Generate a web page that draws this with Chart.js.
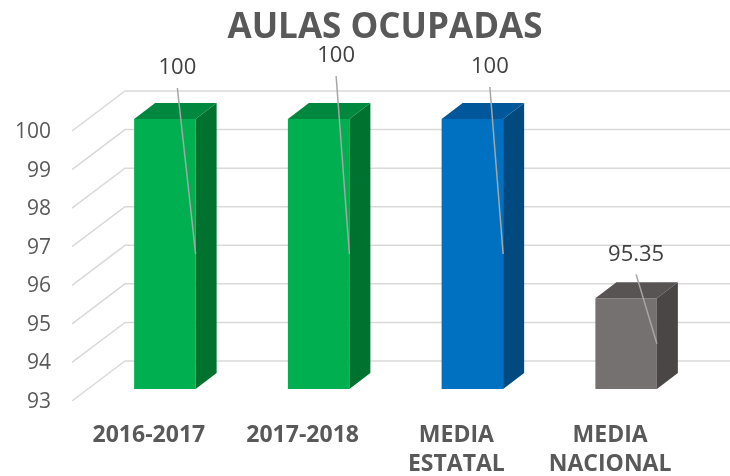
<!DOCTYPE html>
<html>
<head>
<meta charset="utf-8">
<script src="https://cdn.jsdelivr.net/npm/chart.js@4/dist/chart.umd.min.js"></script>
<style>
  html,body{margin:0;padding:0;background:#fff;}
  #wrap{width:730px;height:476px;position:relative;}
</style>
</head>
<body>
<div id="wrap"><canvas id="c"></canvas></div>
<script>
// ── data ──
const TITLE = 'AULAS OCUPADAS';
const CATS = [['2016-2017'], ['2017-2018'], ['MEDIA','ESTATAL'], ['MEDIA','NACIONAL']];
const VALS = [100, 100, 100, 95.35];
const Y_MIN = 93, Y_MAX = 100, Y_STEP = 1;

// ── styles ──
const FRONT = ['#00b050', '#00b050', '#0070c0', '#767171'];
const TOP   = ['#00893e', '#00893e', '#005799', '#595454'];
const SIDE  = ['#00722f', '#00722f', '#004a80', '#4b4646'];
const FONT = '"Open Sans", "DejaVu Sans", sans-serif';

// 3D box + back wall, drawn around the bars Chart.js places
const box3d = {
  id: 'box3d',
  beforeDatasetsDraw(chart, args, o){
    const {ctx, chartArea:a, scales:{y}} = chart;
    ctx.save();
    ctx.strokeStyle = '#d9d9d9';
    ctx.lineWidth = 1.5;
    y.ticks.forEach(t => {
      const py = y.getPixelForValue(t.value);
      ctx.beginPath();
      ctx.moveTo(a.left + o.floorDx, py + o.floorDy);
      ctx.lineTo(a.left + o.wallDx, py + o.wallDy);
      ctx.lineTo(chart.width, py + o.wallDy);
      ctx.stroke();
    });
    ctx.restore();
  },
  afterDatasetsDraw(chart, args, o){
    const {ctx, chartArea:a} = chart;
    const meta = chart.getDatasetMeta(0);
    ctx.save();
    meta.data.forEach((b, i) => {
      const l = b.x - b.width/2, r = b.x + b.width/2, t = b.y;
      const bt = Math.min(b.base, a.bottom); // axis starts at 93, not 0
      // top face
      ctx.fillStyle = TOP[i];
      ctx.beginPath();
      ctx.moveTo(l, t); ctx.lineTo(r, t);
      ctx.lineTo(r + o.dx, t + o.dy); ctx.lineTo(l + o.dx, t + o.dy);
      ctx.closePath(); ctx.fill();
      // side face
      ctx.fillStyle = SIDE[i];
      ctx.beginPath();
      ctx.moveTo(r, t); ctx.lineTo(r + o.dx, t + o.dy);
      ctx.lineTo(r + o.dx, bt + o.dy); ctx.lineTo(r, bt);
      ctx.closePath(); ctx.fill();
    });
    // data labels with leader lines
    ctx.font = '22px ' + FONT;
    ctx.textAlign = 'center';
    ctx.textBaseline = 'middle';
    meta.data.forEach((b, i) => {
      const [ox, oy] = o.labelShift[i];
      const lx = b.x + ox, ly = b.y + oy;
      const bt = Math.min(b.base, a.bottom);
      ctx.strokeStyle = '#a6a6a6';
      ctx.lineWidth = 1.5;
      ctx.beginPath();
      ctx.moveTo(lx, ly + 20);
      ctx.lineTo(b.x + b.width/2, (b.y + bt)/2);
      ctx.stroke();
      ctx.fillStyle = '#404040';
      ctx.fillText(String(VALS[i]), lx, ly);
    });
    // title, centred where the original sits (not on the canvas middle)
    ctx.font = 'bold 35px ' + FONT;
    ctx.fillStyle = '#595959';
    ctx.textBaseline = 'alphabetic';
    ctx.fillText(TITLE, o.titleX, o.titleY);
    ctx.restore();
  }
};

new Chart(document.getElementById('c'), {
  type: 'bar',
  data: {
    labels: CATS,
    datasets: [{ data: VALS, backgroundColor: FRONT, borderWidth: 0, barPercentage: 0.4, categoryPercentage: 1 }]
  },
  options: {
    responsive: true,
    maintainAspectRatio: false,
    animation: false,
    layout: { padding: { left: 0, right: 27, top: 119, bottom: 0 } },
    plugins: {
      legend: { display: false },
      tooltip: { enabled: false },
      title: { display: false },
      box3d: {
        dx: 21, dy: -16,
        floorDx: -16, floorDy: 12,
        wallDx: 37, wallDy: -28,
        labelShift: [[12.5, -51], [17.5, -63], [17.5, -52], [10, -44]],
        titleX: 385, titleY: 38
      }
    },
    scales: {
      x: {
        grid: { display: false, drawTicks: false }, border: { display: false },
        afterFit: s => { s.height = 87; },
        ticks: {
          color: '#595959', labelOffset: -16, padding: 32, maxRotation: 0,
          font: { family: FONT, size: 23, weight: 'bold', lineHeight: 1.26 }
        }
      },
      y: {
        min: Y_MIN, max: Y_MAX,
        grid: { display: false, drawTicks: false }, border: { display: false },
        afterFit: s => { s.width = 88; },
        ticks: {
          stepSize: Y_STEP, color: '#595959', labelOffset: 13, padding: 37,
          font: { family: FONT, size: 21 }
        }
      }
    }
  },
  plugins: [box3d]
});
</script>
</body>
</html>
